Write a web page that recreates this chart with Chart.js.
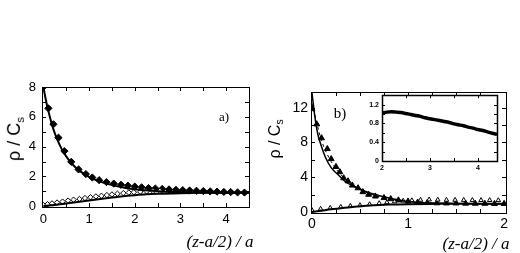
<!DOCTYPE html>
<html>
<head>
<meta charset="utf-8">
<script src="https://cdn.jsdelivr.net/npm/chart.js@4"></script>
<style>
  body { margin: 0; background: #fff; }
  #wrap { position: relative; width: 520px; height: 253px; overflow: hidden; background: #fff; }
  canvas { position: absolute; }
  .lbl { position: absolute; white-space: nowrap; line-height: 1; color: #000; transform: translate(-50%, -50%); }
  .ytitle { font-family: "Liberation Sans", Arial, sans-serif; transform: translate(-50%, -50%) rotate(-90deg); }
  .xtitle { font-family: "Liberation Serif", "Times New Roman", serif; font-style: italic; font-size: 17px; }
  .panel { font-family: "Liberation Serif", "Times New Roman", serif; }
  sub { font-size: 65%; vertical-align: -0.3em; }
</style>
</head>
<body>
<div id="wrap">
  <canvas id="left-chart" width="260" height="183" style="left:0;top:70px;width:260px;height:183px"></canvas>
  <canvas id="right-chart" width="260" height="183" style="left:260px;top:70px;width:260px;height:183px"></canvas>
  <canvas id="inset-chart" width="145" height="100" style="left:360px;top:88px;width:145px;height:100px"></canvas>
  <div class="lbl ytitle" style="left:15px;top:139px;font-size:18px">ρ / C<sub>s</sub></div>
  <div class="lbl ytitle" style="left:276px;top:139px;font-size:16px">ρ / C<sub>s</sub></div>
  <div class="lbl xtitle" style="left:220px;top:241px">(z-a/2) / a</div>
  <div class="lbl xtitle" style="left:476px;top:243px">(z-a/2) / a</div>
  <div class="lbl panel" style="left:224px;top:116px;font-size:13px">a)</div>
  <div class="lbl panel" style="left:340px;top:113px;font-size:15px">b)</div>
</div>
<script>
// panel a) - filled diamonds
var aFilledX = [0, 0.11, 0.22, 0.33, 0.46, 0.61, 0.77, 0.93, 1.07, 1.22, 1.38, 1.54, 1.7, 1.85, 2.0, 2.15, 2.3, 2.45, 2.6, 2.75, 2.9, 3.05, 3.2, 3.35, 3.5, 3.65, 3.8, 3.95, 4.1, 4.25, 4.4];
var aFilledY = [8.0, 6.57, 5.5, 4.6, 3.7, 2.98, 2.47, 2.16, 1.93, 1.75, 1.62, 1.52, 1.44, 1.38, 1.32, 1.27, 1.22, 1.19, 1.16, 1.13, 1.1, 1.08, 1.06, 1.04, 1.02, 1.0, 0.98, 0.96, 0.95, 0.93, 0.92];
// panel a) - open diamonds
var aOpenX = [0, 0.09, 0.19, 0.3, 0.42, 0.54, 0.66, 0.79, 0.91, 1.03, 1.15, 1.27, 1.39, 1.5, 1.62, 1.75, 1.87, 1.98, 2.12, 2.26, 2.4, 2.55];
var aOpenY = [0.08, 0.14, 0.19, 0.25, 0.31, 0.38, 0.44, 0.49, 0.55, 0.61, 0.66, 0.7, 0.75, 0.79, 0.84, 0.88, 0.92, 0.94, 0.97, 1.0, 1.02, 1.03];
// panel a) - solid curves
var aUpperX = [0, 0.05, 0.1, 0.15, 0.2, 0.3, 0.4, 0.5, 0.6, 0.7, 0.8, 1.0, 1.2, 1.4, 1.6, 1.8, 2.0, 2.3, 2.6, 3.0, 3.5, 4.0, 4.5];
var aUpperY = [8.0, 7.2, 6.5, 5.9, 5.35, 4.5, 3.85, 3.35, 2.95, 2.62, 2.36, 1.97, 1.7, 1.5, 1.35, 1.23, 1.14, 1.05, 0.99, 0.95, 0.92, 0.91, 0.9];
var aLowerX = [0, 0.25, 0.5, 0.75, 1.0, 1.25, 1.5, 1.75, 2.0, 2.25, 2.5, 3.0, 3.5, 4.0, 4.5];
var aLowerY = [0, 0.08, 0.18, 0.28, 0.38, 0.48, 0.58, 0.67, 0.74, 0.8, 0.84, 0.88, 0.9, 0.91, 0.92];

// panel b) - filled triangles
var bFilledX = [0, 0.05, 0.1, 0.16, 0.2, 0.25, 0.29, 0.33, 0.375, 0.42, 0.48, 0.53, 0.59, 0.66, 0.75, 0.82, 0.9, 1.0, 1.1, 1.2, 1.3, 1.4, 1.5, 1.6, 1.7, 1.8, 1.9, 2.0];
var bFilledY = [11.85, 10.1, 8.5, 7.26, 6.1, 5.2, 4.6, 3.9, 3.55, 3.06, 2.75, 2.3, 2.0, 1.8, 1.62, 1.5, 1.35, 1.22, 1.1, 1.05, 1.02, 1.0, 1.0, 0.98, 0.97, 0.96, 0.95, 0.95];
// panel b) - open triangles
var bOpenX = [0, 0.09, 0.19, 0.3, 0.4, 0.5, 0.6, 0.7, 0.78, 0.86, 0.95, 1.04, 1.13, 1.22, 1.31, 1.4, 1.49, 1.58, 1.67, 1.76, 1.85, 1.94];
var bOpenY = [0.2, 0.35, 0.46, 0.57, 0.69, 0.76, 0.88, 1.0, 1.1, 1.2, 1.28, 1.33, 1.38, 1.42, 1.4, 1.38, 1.38, 1.37, 1.36, 1.35, 1.35, 1.34];
// panel b) - curves
var bUpperX = [0, 0.03, 0.06, 0.1, 0.14, 0.2, 0.28, 0.36, 0.45, 0.55, 0.63, 0.75, 0.85, 1.0, 1.2, 1.5, 2.0];
var bUpperY = [13.7, 11.0, 9.0, 7.5, 6.3, 5.1, 4.2, 3.4, 2.87, 2.4, 2.1, 1.75, 1.5, 1.2, 1.05, 0.98, 0.95];
var bDashX = [0, 0.1, 0.2, 0.3, 0.4, 0.5, 0.6, 0.7, 0.8, 1.0, 1.2, 1.5, 2.0];
var bDashY = [12.5, 8.2, 5.8, 4.3, 3.3, 2.6, 2.1, 1.75, 1.5, 1.2, 1.05, 0.98, 0.95];
var bLowerX = [0, 0.1, 0.2, 0.3, 0.4, 0.5, 0.6, 0.7, 0.8, 1.0, 1.3, 1.6, 2.0];
var bLowerY = [0, 0.15, 0.3, 0.42, 0.55, 0.65, 0.73, 0.8, 0.85, 0.9, 0.93, 0.95, 0.95];

// inset of panel b)
var insetX = [2.0, 2.1, 2.2, 2.3, 2.4, 2.5, 2.6, 2.7, 2.8, 2.9, 3.0, 3.1, 3.2, 3.3, 3.4, 3.5, 3.6, 3.7, 3.8, 3.9, 4.0, 4.1, 4.2, 4.3, 4.4];
var insetY = [1.02, 1.04, 1.05, 1.04, 1.03, 1.01, 0.99, 0.97, 0.95, 0.92, 0.9, 0.88, 0.86, 0.84, 0.82, 0.79, 0.77, 0.75, 0.72, 0.7, 0.67, 0.65, 0.62, 0.59, 0.57];

// tick labels
var aXLabels = [0, 1, 2, 3, 4];
var aYLabels = [0, 2, 4, 6, 8];
var bXLabels = [0, 1, 2];
var bYLabels = [0, 4, 8, 12];
var insetXLabels = [2, 3, 4];
var insetYLabels = [0, 0.4, 0.8, 1.2];
// inward tick marks
var aXMarks = [0.5, 1, 1.5, 2, 2.5, 3, 3.5, 4];
var aYMarks = [1, 2, 3, 4, 5, 6, 7];
var bXMarks = [0.25, 0.5, 0.75, 1, 1.25, 1.5, 1.75];
var bYMarks = [2, 4, 6, 8, 10, 12];
var insetXMarks = [2.5, 3, 3.5, 4];
var insetYMarks = [0.2, 0.4, 0.6, 0.8, 1.0, 1.2];

function toPoints(xs, ys) {
  return xs.map(function (x, i) { return { x: x, y: ys[i] }; });
}

// frame box with ticks pointing inwards
var frameTicks = {
  id: "frameTicks",
  beforeDatasetsDraw: function (chart, args, opts) {
    if (!opts.whiteBg) return;
    var a = chart.chartArea, ctx = chart.ctx;
    ctx.save();
    ctx.fillStyle = "#fff";
    ctx.fillRect(a.left, a.top, a.right - a.left, a.bottom - a.top);
    ctx.restore();
  },
  afterDatasetsDraw: function (chart, args, opts) {
    var ctx = chart.ctx, a = chart.chartArea;
    var xs = chart.scales.x, ys = chart.scales.y, L = opts.len;
    ctx.save();
    ctx.strokeStyle = "#000";
    ctx.lineWidth = 1;
    ctx.beginPath();
    opts.xMarks.forEach(function (v) {
      var px = Math.round(xs.getPixelForValue(v)) + 0.5;
      ctx.moveTo(px, a.bottom); ctx.lineTo(px, a.bottom - L);
      ctx.moveTo(px, a.top); ctx.lineTo(px, a.top + L);
    });
    opts.yMarks.forEach(function (v) {
      var py = Math.round(ys.getPixelForValue(v)) + 0.5;
      ctx.moveTo(a.left, py); ctx.lineTo(a.left + L, py);
      ctx.moveTo(a.right, py); ctx.lineTo(a.right - L, py);
    });
    ctx.stroke();
    ctx.lineWidth = opts.frameWidth || 1;
    ctx.strokeRect(Math.round(a.left) + 0.5, Math.round(a.top) + 0.5, Math.round(a.right - a.left), Math.round(a.bottom - a.top));
    ctx.restore();
  }
};

function axis(min, max, labels, size, fontSize, pad, bold) {
  return {
    type: "linear",
    min: min,
    max: max,
    grid: { display: false, drawTicks: false },
    border: { display: false },
    afterBuildTicks: function (s) { s.ticks = labels.map(function (v) { return { value: v }; }); },
    afterFit: function (s) { if (s.isHorizontal()) s.height = size; else s.width = size; },
    ticks: {
      autoSkip: false,
      maxRotation: 0,
      padding: pad,
      color: "#000",
      font: { family: "'Liberation Sans', Arial, sans-serif", size: fontSize, weight: bold ? "bold" : "normal" },
      callback: function (v) { return String(v); }
    }
  };
}

function lineSet(xs, ys, width, dash) {
  return {
    data: toPoints(xs, ys),
    showLine: true,
    borderColor: "#000",
    borderWidth: width,
    borderDash: dash || [],
    pointRadius: 0,
    cubicInterpolationMode: "monotone",
    fill: false
  };
}

function markSet(xs, ys, style, r, filled) {
  return {
    data: toPoints(xs, ys),
    showLine: false,
    pointStyle: style,
    pointRadius: r,
    pointBorderWidth: 1,
    pointBorderColor: "#000",
    pointBackgroundColor: filled ? "#000" : "#fff"
  };
}

function baseOptions(padding, xAxis, yAxis, ticksOpts) {
  return {
    responsive: false,
    animation: false,
    events: [],
    layout: { padding: padding },
    scales: { x: xAxis, y: yAxis },
    plugins: { legend: { display: false }, tooltip: { enabled: false }, frameTicks: ticksOpts }
  };
}

new Chart(document.getElementById("left-chart").getContext("2d"), {
  type: "scatter",
  data: {
    datasets: [
      lineSet(aLowerX, aLowerY, 2),
      lineSet(aUpperX, aUpperY, 2),
      markSet(aOpenX, aOpenY, "rectRot", 2.7, false),
      markSet(aFilledX, aFilledY, "rectRot", 3.6, true)
    ]
  },
  options: baseOptions(
    { left: 0, right: 11, top: 17, bottom: 0 },
    axis(-0.03, 4.5, aXLabels, 46, 13, 5),
    axis(-0.05, 8, aYLabels, 42, 13, 6),
    { xMarks: aXMarks, yMarks: aYMarks, len: 4 }
  ),
  plugins: [frameTicks]
});

new Chart(document.getElementById("right-chart").getContext("2d"), {
  type: "scatter",
  data: {
    datasets: [
      lineSet(bLowerX, bLowerY, 2),
      lineSet(bUpperX, bUpperY, 1.5),
      lineSet(bDashX, bDashY, 1, [3, 3]),
      markSet(bOpenX, bOpenY, "triangle", 2.6, false),
      markSet(bFilledX, bFilledY, "triangle", 3.4, true)
    ]
  },
  options: baseOptions(
    { left: 0, right: 14, top: 22, bottom: 0 },
    axis(-0.01, 2.02, bXLabels, 40, 14, 3),
    axis(-0.12, 13.8, bYLabels, 51, 14, 3),
    { xMarks: bXMarks, yMarks: bYMarks, len: 4 }
  ),
  plugins: [frameTicks]
});

new Chart(document.getElementById("inset-chart").getContext("2d"), {
  type: "scatter",
  data: {
    datasets: [lineSet(insetX, insetY, 3.5)]
  },
  options: baseOptions(
    { left: 0, right: 8, top: 7, bottom: 0 },
    axis(2, 4.4, insetXLabels, 27, 7, 3, true),
    axis(0, 1.4, insetYLabels, 22, 7, 3, true),
    { xMarks: insetXMarks, yMarks: insetYMarks, len: 3, whiteBg: true, frameWidth: 1.5 }
  ),
  plugins: [frameTicks]
});
</script>
</body>
</html>
